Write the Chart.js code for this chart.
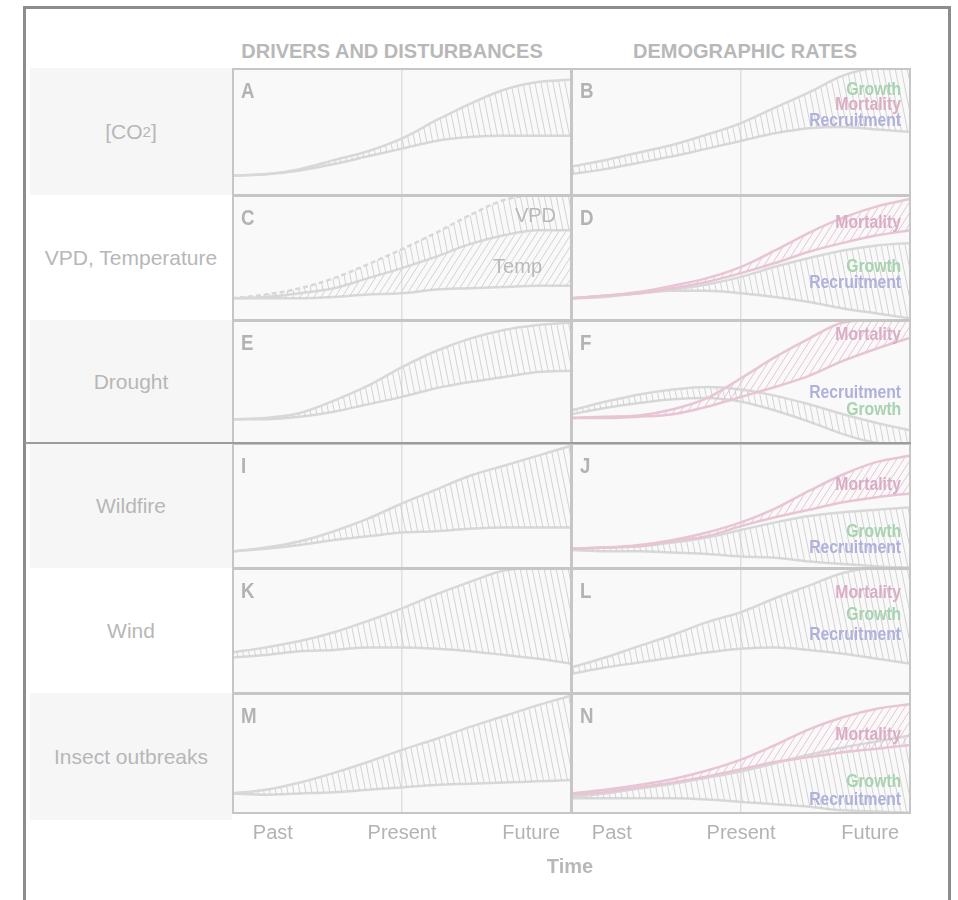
<!DOCTYPE html>
<html>
<head>
<meta charset="utf-8">
<script src="https://cdn.jsdelivr.net/npm/chart.js@4.4.1/dist/chart.umd.min.js"></script>
<style>
  body { margin: 0; width: 958px; height: 900px; background: #fff; position: relative; overflow: hidden;
         font-family: 'Liberation Sans', Arial, sans-serif; }
  .abs { position: absolute; }
  #frame { left: 23px; top: 6px; width: 922px; height: 960px; border: 3px solid #8d8d8d; }
  .rowlab { left: 30px; width: 202px; display: flex; align-items: center; justify-content: center;
            font-size: 21px; color: #b7b7b7; }
  .head { font-size: 20px; font-weight: bold; color: #b8b8b8; line-height: 20px; white-space: nowrap;
          transform: translateX(-50%); }
  .letter { font-weight: bold; font-size: 22px; line-height: 22px; color: #b3b3b3;
            transform: scaleX(0.85); transform-origin: left top; }
  .lab { font-weight: bold; font-size: 17.5px; line-height: 17px; white-space: nowrap; text-align: right;
         transform: scaleX(0.9); transform-origin: right top; }
  .glab { font-size: 20px; line-height: 20px; color: #b9b9b9; white-space: nowrap; text-align: right; }
  canvas { position: absolute; }
</style>
</head>
<body>
<div id="frame" class="abs"></div>

<script>
// ---- data ----
const xs = [0, 0.1, 0.2, 0.3, 0.4, 0.5, 0.6, 0.7, 0.8, 0.9, 1.0];

const rowLabels = ['[CO<sub style="font-size:15px">2</sub>]', 'VPD, Temperature', 'Drought', 'Wildfire', 'Wind', 'Insect outbreaks'];
const headers = ['DRIVERS AND DISTURBANCES', 'DEMOGRAPHIC RATES'];
const timeTicks = ['Past', 'Present', 'Future'];
const tickPositions = [0.12, 0.5, 0.88];
const presentAt = 0.5;
const axisTitle = 'Time';

// A / B  [CO2]
const aUpper = [0.16, 0.17, 0.21, 0.28, 0.35, 0.45, 0.59, 0.72, 0.83, 0.89, 0.91];
const aLower = [0.16, 0.17, 0.20, 0.25, 0.31, 0.37, 0.43, 0.46, 0.47, 0.47, 0.47];
const bUpper = [0.23, 0.28, 0.34, 0.40, 0.48, 0.57, 0.69, 0.81, 0.94, 1.0, 1.0];
const bLower = [0.17, 0.21, 0.26, 0.31, 0.37, 0.43, 0.49, 0.53, 0.54, 0.52, 0.50];
// C / D  VPD, Temperature
const cVpd    = [0.18, 0.21, 0.26, 0.34, 0.45, 0.57, 0.70, 0.84, 0.96, 1.0, 1.0];
const cTempHi = [0.18, 0.19, 0.22, 0.26, 0.34, 0.42, 0.51, 0.61, 0.68, 0.72, 0.72];
const cTempLo = [0.18, 0.18, 0.18, 0.19, 0.21, 0.22, 0.25, 0.26, 0.27, 0.28, 0.28];
const dMortHi = [0.18, 0.20, 0.23, 0.28, 0.34, 0.43, 0.56, 0.70, 0.82, 0.91, 0.97];
const dMortLo = [0.18, 0.20, 0.22, 0.26, 0.31, 0.38, 0.46, 0.55, 0.62, 0.68, 0.72];
const dGrowHi = [0.18, 0.19, 0.22, 0.25, 0.29, 0.35, 0.43, 0.50, 0.56, 0.60, 0.62];
const dGrowLo = [0.18, 0.20, 0.22, 0.24, 0.24, 0.22, 0.19, 0.15, 0.10, 0.06, 0.02];
// E / F  Drought
const eUpper  = [0.20, 0.21, 0.25, 0.35, 0.47, 0.62, 0.75, 0.85, 0.92, 0.96, 0.98];
const eLower  = [0.20, 0.20, 0.22, 0.26, 0.32, 0.38, 0.45, 0.50, 0.54, 0.58, 0.59];
const fMortHi = [0.21, 0.22, 0.23, 0.28, 0.37, 0.53, 0.70, 0.85, 0.98, 1.0, 1.0];
const fMortLo = [0.21, 0.21, 0.22, 0.24, 0.30, 0.38, 0.46, 0.55, 0.67, 0.77, 0.86];
const fGrowHi = [0.27, 0.34, 0.40, 0.44, 0.46, 0.44, 0.39, 0.32, 0.24, 0.17, 0.11];
const fGrowLo = [0.24, 0.29, 0.33, 0.36, 0.37, 0.34, 0.27, 0.18, 0.08, 0.01, 0.0];
// I / J  Wildfire
const iUpper  = [0.14, 0.17, 0.22, 0.30, 0.40, 0.52, 0.63, 0.74, 0.82, 0.90, 0.98];
const iLower  = [0.14, 0.16, 0.19, 0.23, 0.26, 0.29, 0.30, 0.32, 0.33, 0.33, 0.33];
const jMortHi = [0.16, 0.17, 0.19, 0.23, 0.29, 0.37, 0.48, 0.62, 0.75, 0.85, 0.90];
const jMortLo = [0.16, 0.17, 0.18, 0.22, 0.26, 0.34, 0.41, 0.47, 0.53, 0.57, 0.60];
const jGrowHi = [0.16, 0.17, 0.18, 0.21, 0.25, 0.31, 0.37, 0.42, 0.45, 0.47, 0.49];
const jGrowLo = [0.15, 0.14, 0.14, 0.13, 0.12, 0.10, 0.09, 0.06, 0.04, 0.02, 0.01];
// K / L  Wind
const kUpper = [0.33, 0.37, 0.42, 0.49, 0.58, 0.68, 0.79, 0.89, 0.98, 1.0, 1.0];
const kLower = [0.29, 0.31, 0.34, 0.35, 0.37, 0.37, 0.36, 0.34, 0.31, 0.28, 0.24];
const lUpper = [0.21, 0.29, 0.38, 0.47, 0.57, 0.65, 0.76, 0.86, 0.96, 1.0, 1.0];
const lLower = [0.16, 0.21, 0.25, 0.29, 0.33, 0.36, 0.37, 0.35, 0.32, 0.28, 0.24];
// M / N  Insect outbreaks
const mUpper  = [0.17, 0.20, 0.26, 0.34, 0.43, 0.53, 0.62, 0.72, 0.81, 0.90, 0.98];
const mLower  = [0.17, 0.16, 0.17, 0.18, 0.20, 0.22, 0.24, 0.25, 0.26, 0.27, 0.28];
const nMortHi = [0.17, 0.20, 0.24, 0.29, 0.36, 0.45, 0.57, 0.70, 0.80, 0.87, 0.91];
const nMortLo = [0.16, 0.18, 0.22, 0.26, 0.31, 0.37, 0.43, 0.47, 0.51, 0.54, 0.57];
const nGrowHi = [0.14, 0.17, 0.21, 0.25, 0.30, 0.35, 0.42, 0.49, 0.55, 0.60, 0.65];
const nGrowLo = [0.13, 0.13, 0.13, 0.13, 0.12, 0.10, 0.08, 0.06, 0.03, 0.02, 0.01];

// ---- layout ----
const colLeft = [232, 571];
const colWidth = 340;
const rowTop = [68, 195, 320, 443, 568, 693, 820];
const shadedRows = [0, 2, 3, 5];

const GRAY = '#d8d8d8', PINK = '#e8c5d4';
const labelColor = { Growth: '#a7d3af', Mortality: '#dbadc4', Recruitment: '#afb1dc' };

function makePattern(kind) {
  const c = document.createElement('canvas');
  const g = c.getContext('2d');
  if (kind === 'gray') {            // slightly slanted, nearly vertical
    c.width = 6; c.height = 30;
    g.strokeStyle = 'rgba(205,205,205,0.85)'; g.lineWidth = 1;
    [-6, 0, 6].forEach(o => { g.beginPath(); g.moveTo(o, 0); g.lineTo(o + 6, 30); g.stroke(); });
  } else {                          // diagonal ////
    c.width = 7; c.height = 11;
    g.strokeStyle = kind === 'pink' ? 'rgba(232,190,208,0.9)' : 'rgba(205,205,205,0.85)';
    g.lineWidth = 1;
    [-7, 0, 7].forEach(o => { g.beginPath(); g.moveTo(o, 11); g.lineTo(o + 7, 0); g.stroke(); });
  }
  return g.createPattern(c, 'repeat');
}

const panels = [
  { id: 'A', col: 0, row: 0, lines: [{ d: aUpper, fill: 'gray' }, { d: aLower }] },
  { id: 'B', col: 1, row: 0, lines: [{ d: bUpper, fill: 'gray' }, { d: bLower }],
    labels: [['Growth', 95], ['Mortality', 110], ['Recruitment', 126]] },
  { id: 'C', col: 0, row: 1, lines: [{ d: cVpd, fill: 'gray', dash: [5, 3] }, { d: cTempHi, fill: 'temp' }, { d: cTempLo }],
    glabels: [['VPD', 222, 556], ['Temp', 273, 542]] },
  { id: 'D', col: 1, row: 1, lines: [{ d: dMortHi, c: PINK, fill: 'pink' }, { d: dMortLo, c: PINK }, { d: dGrowHi, fill: 'gray' }, { d: dGrowLo }],
    labels: [['Mortality', 228], ['Growth', 272], ['Recruitment', 288]] },
  { id: 'E', col: 0, row: 2, lines: [{ d: eUpper, fill: 'gray' }, { d: eLower }] },
  { id: 'F', col: 1, row: 2, lines: [{ d: fMortHi, c: PINK, fill: 'pink' }, { d: fMortLo, c: PINK }, { d: fGrowHi, fill: 'gray' }, { d: fGrowLo }],
    labels: [['Mortality', 340], ['Recruitment', 398], ['Growth', 415]] },
  { id: 'I', col: 0, row: 3, lines: [{ d: iUpper, fill: 'gray' }, { d: iLower }] },
  { id: 'J', col: 1, row: 3, lines: [{ d: jMortHi, c: PINK, fill: 'pink' }, { d: jMortLo, c: PINK }, { d: jGrowHi, fill: 'gray' }, { d: jGrowLo }],
    labels: [['Mortality', 490], ['Growth', 537], ['Recruitment', 553]] },
  { id: 'K', col: 0, row: 4, lines: [{ d: kUpper, fill: 'gray' }, { d: kLower }] },
  { id: 'L', col: 1, row: 4, lines: [{ d: lUpper, fill: 'gray' }, { d: lLower }],
    labels: [['Mortality', 598], ['Growth', 620], ['Recruitment', 640]] },
  { id: 'M', col: 0, row: 5, lines: [{ d: mUpper, fill: 'gray' }, { d: mLower }] },
  { id: 'N', col: 1, row: 5, lines: [{ d: nMortHi, c: PINK, fill: 'pink' }, { d: nMortLo, c: PINK }, { d: nGrowHi, fill: 'gray' }, { d: nGrowLo }],
    labels: [['Mortality', 740], ['Growth', 787], ['Recruitment', 805]] }
];

function addDiv(cls, html, css) {
  const el = document.createElement('div');
  el.className = 'abs ' + cls;
  el.innerHTML = html;
  Object.assign(el.style, css);
  document.body.appendChild(el);
  return el;
}

// row label cells
rowLabels.forEach((t, r) => {
  const h = rowTop[r + 1] - rowTop[r];
  addDiv('rowlab', t, { top: rowTop[r] + 'px', height: h + 'px',
    background: shadedRows.includes(r) ? '#f6f6f6' : 'transparent' });
});

// column headers
headers.forEach((t, i) => {
  addDiv('head', t, { left: (i === 0 ? 392 : 745) + 'px', top: '41px' });
});

// panel frame + background
const panelFrame = {
  id: 'panelFrame',
  beforeDraw(chart) {
    const { ctx, chartArea: a } = chart;
    ctx.save();
    ctx.fillStyle = '#f9f9f9';
    ctx.fillRect(a.left, a.top, a.width, a.height);
    ctx.restore();
  },
  afterDraw(chart) {
    const { ctx, chartArea: a } = chart;
    ctx.save();
    ctx.strokeStyle = '#c6c6c6';
    ctx.lineWidth = 2;
    ctx.strokeRect(a.left + 1, a.top + 1, a.width - 2, a.height - 2);
    ctx.restore();
  }
};

const patterns = { gray: makePattern('gray'), temp: makePattern('temp'), pink: makePattern('pink') };

panels.forEach(p => {
  const bottomRow = p.row === rowTop.length - 2;
  const h = rowTop[p.row + 1] - rowTop[p.row] + 1;
  const cv = document.createElement('canvas');
  cv.width = colWidth;
  cv.height = h + (bottomRow ? 31 : 0);
  cv.style.left = colLeft[p.col] + 'px';
  cv.style.top = rowTop[p.row] + 'px';
  document.body.appendChild(cv);

  const datasets = p.lines.map(l => ({
    data: xs.map((x, i) => ({ x, y: l.d[i] })),
    borderColor: l.c || GRAY,
    borderWidth: 2.5,
    borderDash: l.dash || [],
    fill: l.fill ? '+1' : false,
    backgroundColor: l.fill ? patterns[l.fill] : 'transparent',
    pointRadius: 0,
    cubicInterpolationMode: 'monotone'
  }));

  new Chart(cv, {
    type: 'line',
    data: { datasets },
    options: {
      responsive: false,
      animation: false,
      events: [],
      layout: { padding: 0 },
      plugins: { legend: { display: false }, tooltip: { enabled: false } },
      scales: {
        x: {
          type: 'linear', min: 0, max: 1,
          border: { display: false },
          afterBuildTicks: s => { s.ticks = tickPositions.map(v => ({ value: v })); },
          grid: {
            drawTicks: false, lineWidth: 1.5,
            color: c => (c.tick && c.tick.value === presentAt) ? '#e0e0e0' : 'rgba(0,0,0,0)'
          },
          ticks: {
            display: bottomRow, padding: 7, autoSkip: false, maxRotation: 0,
            color: '#b3b3b3', font: { size: 20, family: "'Liberation Sans', Arial, sans-serif" },
            callback: (v, i) => timeTicks[i]
          }
        },
        y: { display: false, min: 0, max: 1 }
      }
    },
    plugins: [panelFrame]
  });

  // panel letter
  addDiv('letter', p.id, { left: (colLeft[p.col] + 9) + 'px', top: (rowTop[p.row] + 12) + 'px' });
  // rate labels
  (p.labels || []).forEach(([t, base]) => {
    addDiv('lab', t, { right: (958 - 901) + 'px', top: (base - 14) + 'px', color: labelColor[t] });
  });
  (p.glabels || []).forEach(([t, base, rx]) => {
    addDiv('glab', t, { right: (958 - rx) + 'px', top: (base - 17) + 'px' });
  });
});

// darker separator under the drought row
addDiv('', '', { left: '25px', top: '442px', width: '886px', height: '2px', background: '#9c9c9c' });

// axis title
addDiv('head', axisTitle, { left: '570px', top: '856px' });
</script>
</body>
</html>
